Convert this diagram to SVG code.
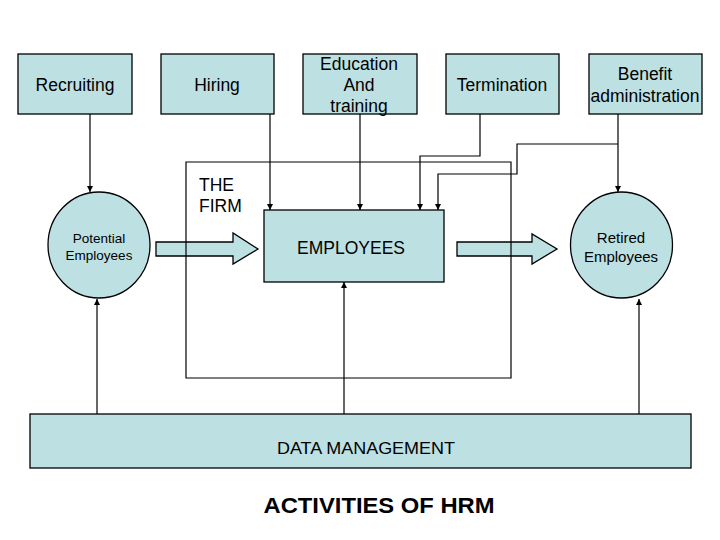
<svg xmlns="http://www.w3.org/2000/svg" width="720" height="540" viewBox="0 0 720 540">
<style>
.box{fill:#BDE0E3;stroke:#000;stroke-width:1.3}
.ln{fill:none;stroke:#000;stroke-width:1.2}
.t{font-family:"Liberation Sans",Arial,sans-serif;fill:#000;text-anchor:middle}
.t17{font-size:17.5px}
.t14{font-size:13.5px}
</style>
<defs>
<marker id="ah" markerUnits="userSpaceOnUse" markerWidth="8" markerHeight="8" viewBox="0 0 8 8" refX="4" refY="7" orient="auto-start-reverse">
<path d="M0.8,1 L7.2,1 L4,7 Z" fill="#000" transform="rotate(-90 4 4)"/>
</marker>
<marker id="av" markerUnits="userSpaceOnUse" markerWidth="8" markerHeight="8" viewBox="0 0 8 8" refX="4" refY="7" orient="0">
<path d="M1,1 L7,1 L4,7 Z" fill="#000"/>
</marker>
<marker id="au" markerUnits="userSpaceOnUse" markerWidth="8" markerHeight="8" viewBox="0 0 8 8" refX="4" refY="1" orient="0">
<path d="M1,7 L7,7 L4,1 Z" fill="#000"/>
</marker>
</defs>
<rect width="720" height="540" fill="#fff"/>

<g id="blockarrows">
<path class="box" d="M156,242 L233,242 L233,233 L258,249 L233,264 L233,256 L156,256 Z"/>
<path class="box" d="M457,242 L532,242 L532,234 L557,249 L532,264 L532,256 L457,256 Z"/>
</g>

<g id="firm">
<path class="ln" d="M186,378 L186,162 L511,162 L511,378 Z"/>
<text class="t t17" x="199" y="191" style="text-anchor:start">THE</text>
<text class="t t17" x="199" y="212" style="text-anchor:start">FIRM</text>
</g>

<g id="connectors">
<path class="ln" d="M90,114 L90,192" marker-end="url(#av)"/>
<path class="ln" d="M270,114 L270,210" marker-end="url(#av)"/>
<path class="ln" d="M360,114 L360,210" marker-end="url(#av)"/>
<path class="ln" d="M480,114 L480,156 L420,156 L420,210" marker-end="url(#av)"/>
<path class="ln" d="M618,114 L618,192" marker-end="url(#av)"/>
<path class="ln" d="M618,144 L517,144 L517,174 L438,174 L438,210" marker-end="url(#av)"/>
<path class="ln" d="M97,414 L97,299" marker-end="url(#au)"/>
<path class="ln" d="M344,414 L344,282" marker-end="url(#au)"/>
<path class="ln" d="M639,414 L639,299" marker-end="url(#au)"/>
</g>

<g id="recruiting">
<rect class="box" x="18" y="54" width="114" height="60"/>
<text class="t t17" x="75" y="91">Recruiting</text>
</g>
<g id="hiring">
<rect class="box" x="161" y="54" width="113" height="60"/>
<text class="t t17" x="217" y="91">Hiring</text>
</g>
<g id="education">
<rect class="box" x="303" y="54" width="114" height="60"/>
<text class="t t17" x="359" y="70">Education</text>
<text class="t t17" x="359" y="91">And</text>
<text class="t t17" x="359" y="112">training</text>
</g>
<g id="termination">
<rect class="box" x="446" y="54" width="113" height="60"/>
<text class="t t17" x="502" y="91">Termination</text>
</g>
<g id="benefit">
<rect class="box" x="589" y="54" width="113" height="60"/>
<text class="t t17" x="645" y="80">Benefit</text>
<text class="t t17" x="645" y="102">administration</text>
</g>

<g id="potential">
<ellipse class="box" cx="99" cy="245" rx="51" ry="53"/>
<text class="t t14" x="99" y="243">Potential</text>
<text class="t t14" x="99" y="260">Employees</text>
</g>
<g id="employees">
<rect class="box" x="264" y="210" width="180" height="72"/>
<text class="t t17" x="351" y="254">EMPLOYEES</text>
</g>
<g id="retired">
<ellipse class="box" cx="621.5" cy="245" rx="51" ry="53"/>
<text class="t" style="font-size:15px" x="621" y="243">Retired</text>
<text class="t" style="font-size:15px" x="621" y="262">Employees</text>
</g>
<g id="data">
<rect class="box" x="30" y="414" width="661" height="54"/>
<text class="t" style="font-size:16.5px" x="366" y="454" textLength="178" lengthAdjust="spacingAndGlyphs">DATA MANAGEMENT</text>
</g>

<text class="t" style="font-size:22px;font-weight:bold" x="379" y="513" textLength="231" lengthAdjust="spacingAndGlyphs">ACTIVITIES OF HRM</text>
</svg>
